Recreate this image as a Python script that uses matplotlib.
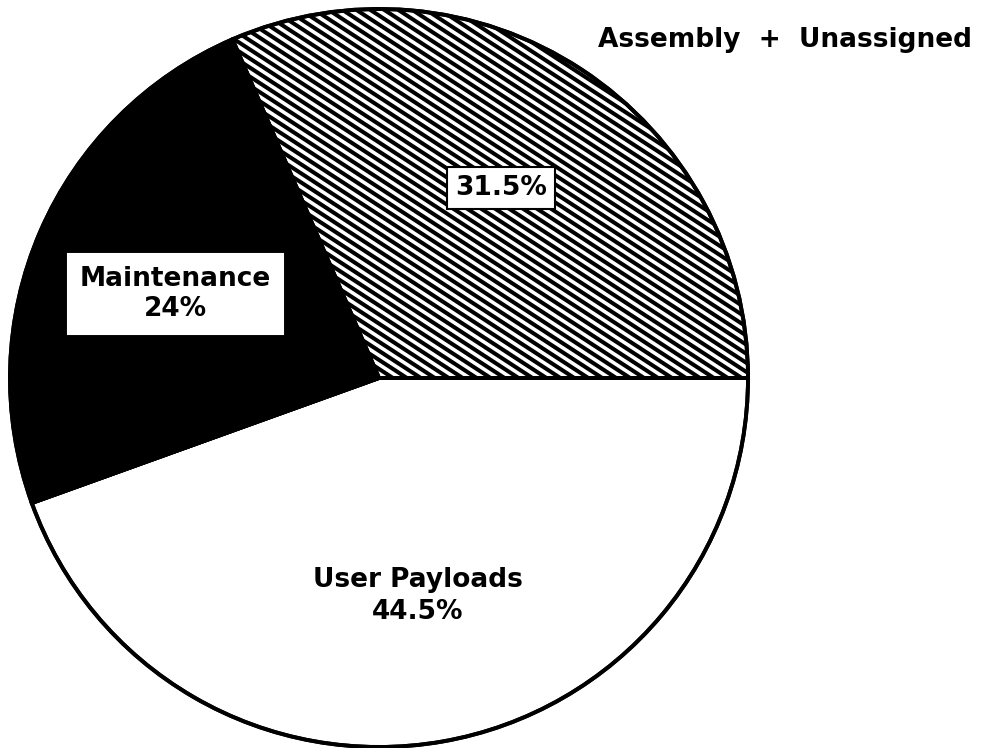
import numpy as np
import matplotlib.pyplot as plt
from matplotlib.collections import LineCollection

labels = ["User Payloads", "Maintenance", "Assembly + Unassigned"]
shares = [44.5, 24.0, 31.5]
face = ["white", "black", "white"]

W, H = 997, 748
fig = plt.figure(figsize=(W / 100, H / 100), dpi=100)
ax = fig.add_axes([0, 0, 1, 1])

cx, cy, r = 379, H - 378, 369
wedges, _ = ax.pie(shares, colors=face, startangle=0, counterclock=False,
                   center=(cx, cy), radius=r, frame=True,
                   wedgeprops=dict(edgecolor="black", linewidth=2.8))

# diagonal stripes for the assembly slice
ang = np.deg2rad(-33)
d = np.array([np.cos(ang), np.sin(ang)])
n = np.array([-d[1], d[0]])
segs = []
for k in np.arange(-70, 70):
    p = np.array([cx, cy]) + n * k * 7.6
    segs.append([p - d * 900, p + d * 900])
lc = LineCollection(segs, colors="black", linewidths=2.9, zorder=3)
ax.add_collection(lc)
lc.set_clip_path(wedges[2])
# redraw outline on top
ax.pie(shares, colors=["none"] * 3, startangle=0, counterclock=False,
       center=(cx, cy), radius=r, frame=True,
       wedgeprops=dict(edgecolor="black", linewidth=2.8, fill=False, zorder=5))
ax.set_xlim(0, W)
ax.set_ylim(0, H)
ax.axis("off")

fnt = dict(family="DejaVu Sans", weight="bold", fontsize=19, ha="center", va="center", zorder=10)
ax.text(501, H - 188, f"{shares[2]}%", bbox=dict(boxstyle="square,pad=0.3", fc="white", ec="black", lw=1.5), **fnt)
ax.text(175, H - 294, f"{labels[1]}\n{shares[1]:g}%", linespacing=1.2,
        bbox=dict(boxstyle="square,pad=0.45", fc="white", ec="white", lw=1.5), **fnt)
ax.text(418, H - 596, f"{labels[0]}\n{shares[0]}%", linespacing=1.3, **fnt)
ax.text(785, H - 40, labels[2].replace(" + ", "  +  "), **fnt)

fig.savefig("out.png", dpi=100)
